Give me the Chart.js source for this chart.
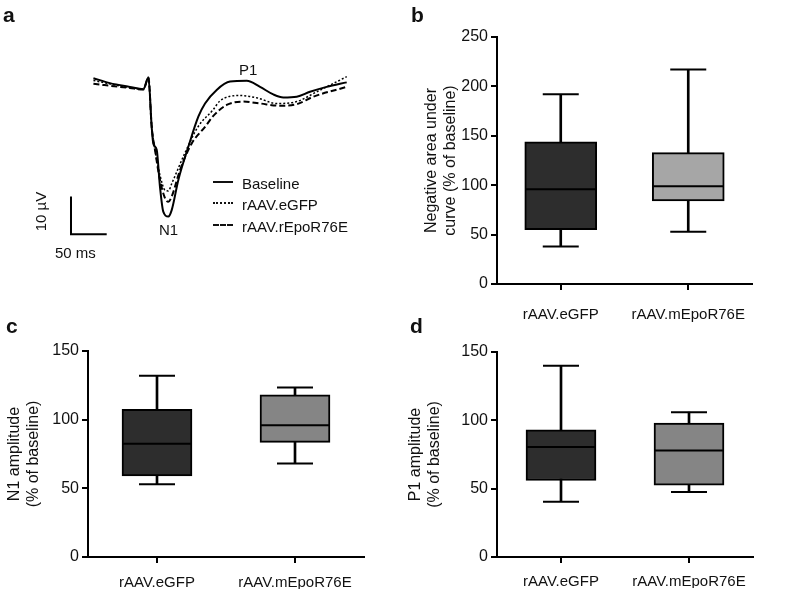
<!DOCTYPE html>
<html><head><meta charset="utf-8">
<script src="https://cdn.jsdelivr.net/npm/chart.js@4.4.0/dist/chart.umd.min.js"></script>
<style>
html,body{margin:0;padding:0;background:#fff;}
body{width:789px;height:593px;position:relative;overflow:hidden;font-family:'Liberation Sans',Arial,Helvetica,sans-serif;color:#111;}
canvas{position:absolute;}
.t{position:absolute;font-size:15px;line-height:15px;white-space:nowrap;}
.lt{position:absolute;font-weight:bold;font-size:21px;line-height:21px;}
.sw{position:absolute;width:20px;height:0;}
</style></head><body>
<canvas id="ca" width="400" height="300" style="left:0;top:0"></canvas>
<canvas id="cb" width="389" height="330" style="left:400px;top:0"></canvas>
<canvas id="cc" width="400" height="283" style="left:0;top:310px"></canvas>
<canvas id="cd" width="389" height="283" style="left:400px;top:310px"></canvas>

<div class="lt" style="left:3px;top:4px">a</div>
<div class="lt" style="left:411px;top:4px">b</div>
<div class="lt" style="left:6px;top:315px">c</div>
<div class="lt" style="left:410px;top:315px">d</div>

<div class="t" style="left:239px;top:62px">P1</div>
<div class="t" style="left:159px;top:222px">N1</div>
<div class="t" style="left:55px;top:245px">50 ms</div>
<div class="t" style="left:10px;top:203.5px;width:60px;text-align:center;transform:rotate(-90deg)">10 µV</div>

<div class="sw" style="left:213px;top:181px;border-top:2px solid #111"></div>
<div class="sw" style="left:213px;top:201.5px;border-top:2px dotted #111"></div>
<div class="sw" style="left:213px;top:224px;border-top:2px dashed #111"></div>
<div class="t" style="left:242px;top:175.5px">Baseline</div>
<div class="t" style="left:242px;top:196.5px">rAAV.eGFP</div>
<div class="t" style="left:242px;top:218.5px">rAAV.rEpoR76E</div>

<script>
// ---------- Panel a: averaged VEP traces (time in ms, amplitude in µV) ----------
const baselineTime = [-76, -53, -25, -6, 1, 5.6, 7.8, 12.6, 17.2, 21.8, 28.9, 33.6, 42.9, 56.9, 70.9, 80.3, 96.6, 115.3, 138.7, 157.3, 175.9, 189.9, 208.7, 227.3, 250.7, 278.7];
const baselineAmp  = [2.6, 1.3, 0.3, -0.3, 2.8, -10.3, -14.7, -16.4, -26.2, -32.8, -34.1, -32.4, -24.4, -15.6, -7.6, -4.1, -0.5, 1.7, 1.9, 0.3, -1.7, -2.5, -2.3, -1.0, 0.3, 1.5];

const egfpTime = [-76, -25, -6, 1, 5.6, 10.2, 17.2, 24.2, 28.9, 34, 52.2, 70.4, 91.5, 101.3, 129.3, 152.7, 180.7, 208.7, 236.7, 278.7];
const egfpAmp  = [2.0, 0.1, -0.3, 2.8, -10.1, -16.4, -23.1, -27.1, -27.3, -25.2, -17.2, -10.3, -5.8, -3.4, -2.0, -2.6, -4.1, -3.6, -1.0, 3.0];

const epoTime = [-76, -25, -6, 1, 5.6, 10.2, 17.2, 24.2, 28.9, 34, 45.2, 61.6, 80.3, 91.9, 110.6, 133.9, 157.3, 185.3, 208.7, 232, 278.7];
const epoAmp  = [1.1, 0.0, -0.4, 2.8, -10.3, -16.4, -24.4, -29.2, -30.2, -28.6, -21.8, -14.7, -10.3, -7.4, -4.5, -3.6, -4.1, -4.7, -4.3, -2.3, 0.3];

// scale bar: 50 ms horizontal, 10 µV vertical
const scaleBarTime = [-107.4, -107.4, -57.4];
const scaleBarAmp  = [-28.8, -38.8, -38.8];

// ---------- Panels b-d: box plots ----------
const boxCategories = ['rAAV.eGFP', 'rAAV.mEpoR76E'];
const yTicksArea = [0, 50, 100, 150, 200, 250];
const yTicksAmp  = [0, 50, 100, 150];

const areaMin = [38, 53];
const areaQ1 = [55, 84];
const areaMedian = [96, 99];
const areaQ3 = [144, 133];
const areaMax = [192, 217];

const n1Min = [53, 68];
const n1Q1 = [59, 83.5];
const n1Median = [82.5, 96];
const n1Q3 = [107.5, 118];
const n1Max = [132, 123.5];

const p1Min = [40.5, 47.5];
const p1Q1 = [56, 52.5];
const p1Median = [80.5, 78];
const p1Q3 = [93, 98];
const p1Max = [140, 106];

const FONT = "'Liberation Sans', Arial, Helvetica, sans-serif";
const TXT = '#111';

function pts(xs, ys) { return xs.map((x, i) => ({x: x, y: ys[i]})); }

new Chart(document.getElementById('ca'), {
  type: 'line',
  data: {
    datasets: [
      {data: pts(baselineTime, baselineAmp), borderColor: '#000', borderWidth: 2, cubicInterpolationMode: 'monotone'},
      {data: pts(egfpTime, egfpAmp), borderColor: '#000', borderWidth: 1.5, borderDash: [2, 2], cubicInterpolationMode: 'monotone'},
      {data: pts(epoTime, epoAmp), borderColor: '#000', borderWidth: 2, borderDash: [6, 3], cubicInterpolationMode: 'monotone'},
      {data: pts(scaleBarTime, scaleBarAmp), borderColor: '#000', borderWidth: 2, tension: 0}
    ]
  },
  options: {
    responsive: false, animation: false, events: [],
    layout: {padding: {left: 60, right: 30, top: 60, bottom: 50}},
    elements: {point: {radius: 0}},
    plugins: {legend: {display: false}, tooltip: {enabled: false}},
    scales: {
      x: {type: 'linear', display: false, min: -122.8, max: 311.3},
      y: {type: 'linear', display: false, min: -42.97, max: 7.43}
    }
  }
});

function boxChart(id, cfg) {
  const axisGrid = {display: true, drawOnChartArea: false, drawTicks: true, tickLength: 6, lineWidth: 2, color: '#000'};
  new Chart(document.getElementById(id), {
    type: 'bar',
    data: {
      labels: boxCategories,
      datasets: [
        {type: 'bar', data: cfg.min.map((v, i) => [v, cfg.max[i]]), backgroundColor: '#000', borderWidth: 0, barThickness: 2, grouped: false, order: 3},
        {type: 'bar', data: cfg.q1.map((v, i) => [v, cfg.q3[i]]), backgroundColor: cfg.colors, borderColor: '#000', borderWidth: 2, borderSkipped: false, barThickness: cfg.boxW, grouped: false, order: 2},
        {type: 'line', data: cfg.max, showLine: false, pointStyle: 'line', pointRadius: 18, pointBorderWidth: 2, pointBorderColor: '#000', order: 1},
        {type: 'line', data: cfg.min, showLine: false, pointStyle: 'line', pointRadius: 18, pointBorderWidth: 2, pointBorderColor: '#000', order: 1},
        {type: 'line', data: cfg.median, showLine: false, pointStyle: 'line', pointRadius: cfg.boxW / 2 - 1, pointBorderWidth: 2, pointBorderColor: '#000', order: 0}
      ]
    },
    options: {
      responsive: false, animation: false, events: [],
      layout: {padding: cfg.pad},
      plugins: {legend: {display: false}, tooltip: {enabled: false}},
      scales: {
        x: {
          grid: Object.assign({}, axisGrid, {offset: false}),
          border: {display: true, width: 2, color: '#000'},
          ticks: {font: {family: FONT, size: 15}, color: TXT, padding: cfg.xPad, maxRotation: 0},
          afterFit: s => { s.height = cfg.xH; }
        },
        y: {
          min: 0, max: cfg.yMax,
          afterBuildTicks: s => { s.ticks = cfg.yTicks.map(v => ({value: v})); },
          grid: axisGrid,
          border: {display: true, width: 2, color: '#000'},
          ticks: {font: {family: FONT, size: 16}, color: TXT, padding: 3},
          title: {display: true, text: cfg.title, color: TXT, font: {family: FONT, size: 16, lineHeight: 1.15}, padding: {top: cfg.titlePad, bottom: 0}},
          afterFit: s => { s.width = cfg.yW; }
        }
      }
    }
  });
}

boxChart('cb', {min: areaMin, q1: areaQ1, median: areaMedian, q3: areaQ3, max: areaMax,
  colors: ['#2d2d2d', '#a6a6a6'], boxW: 72, yMax: 250, yTicks: yTicksArea,
  title: ['Negative area under', 'curve (% of baseline)'], titlePad: 22.5,
  pad: {left: 0, right: 6, top: 31, bottom: 0}, yW: 97, xH: 46, xPad: 16});

boxChart('cc', {min: n1Min, q1: n1Q1, median: n1Median, q3: n1Q3, max: n1Max,
  colors: ['#2d2d2d', '#858585'], boxW: 70, yMax: 150, yTicks: yTicksAmp,
  title: ['N1 amplitude', '(% of baseline)'], titlePad: 5.8,
  pad: {left: 0, right: 34, top: 41, bottom: 0}, yW: 88, xH: 32, xPad: 11});

boxChart('cd', {min: p1Min, q1: p1Q1, median: p1Median, q3: p1Q3, max: p1Max,
  colors: ['#2d2d2d', '#858585'], boxW: 70, yMax: 150, yTicks: yTicksAmp,
  title: ['P1 amplitude', '(% of baseline)'], titlePad: 6.8,
  pad: {left: 0, right: 11, top: 42, bottom: 0}, yW: 97, xH: 31, xPad: 10});
</script>
</body></html>
